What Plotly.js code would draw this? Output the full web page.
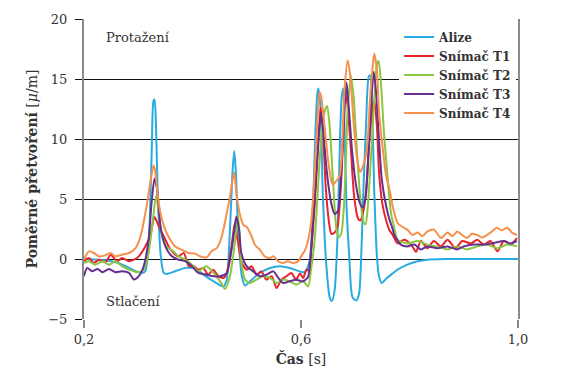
<!DOCTYPE html>
<html>
<head>
<meta charset="utf-8">
<script src="https://cdn.plot.ly/plotly-3.0.1.min.js"></script>
<style>html,body{margin:0;padding:0;background:#fff;}#chart{width:568px;height:367px;}</style>
</head>
<body>
<div id="chart"></div>
<script>
// Series names
const seriesNames = ['Alize', 'Snímač T1', 'Snímač T2', 'Snímač T3', 'Snímač T4'];
const xTickVals = [0.2, 0.6, 1.0];
const xTickText = ['0,2', '0,6', '1,0'];
const yTickVals = [-5, 0, 5, 10, 15, 20];

// [time s, strain µ/m]
const alize = [[0.200,0],[0.228,-0.06],[0.252,-0.19],[0.277,-0.6],[0.295,-1.02],[0.307,-1.16],[0.313,-1.02],[0.319,1.05],[0.322,4.35],[0.325,9.31],[0.328,13.17],[0.330,13.3],[0.333,10.7],[0.336,5.2],[0.341,0.5],[0.347,-1.16],[0.353,-1.24],[0.368,-1.02],[0.387,-0.74],[0.405,-0.8],[0.420,-1.3],[0.439,-1.86],[0.457,-2.28],[0.463,-1.72],[0.469,2.44],[0.474,7.44],[0.477,9.0],[0.480,7.2],[0.484,2.44],[0.491,-1.44],[0.497,-2.22],[0.506,-1.86],[0.524,-1.17],[0.543,-0.75],[0.561,-0.61],[0.579,-0.75],[0.598,-1.03],[0.607,-1.1],[0.616,-0.14],[0.622,4.3],[0.626,9.9],[0.630,13.75],[0.632,14.2],[0.636,12.6],[0.640,5.7],[0.647,-0.7],[0.653,-3.2],[0.657,-3.5],[0.662,-2.6],[0.667,1.5],[0.671,8.5],[0.675,13.5],[0.678,14.2],[0.680,11.3],[0.684,4.3],[0.689,0.2],[0.695,-3.2],[0.702,-3.45],[0.707,-2.9],[0.711,0.2],[0.715,5.7],[0.720,11.3],[0.725,15.2],[0.728,15.3],[0.731,12.7],[0.735,5.7],[0.740,0.2],[0.744,-1.5],[0.749,-2.0],[0.757,-1.64],[0.769,-1.2],[0.778,-0.89],[0.796,-0.47],[0.815,-0.19],[0.833,-0.06],[0.864,0],[0.93,0],[1.0,0]];

const snimacT1 = [[0.200,-0.19],[0.209,0.08],[0.218,-0.33],[0.228,-0.06],[0.240,-0.28],[0.249,0.36],[0.261,-0.19],[0.270,0.08],[0.283,-0.19],[0.292,-0.06],[0.301,0.22],[0.313,1.05],[0.322,1.9],[0.330,3.5],[0.338,2.7],[0.347,1.9],[0.356,1.05],[0.365,0.5],[0.374,0.22],[0.384,0.5],[0.393,-0.6],[0.402,-0.6],[0.411,-0.89],[0.420,-0.75],[0.429,-1.31],[0.438,-0.89],[0.448,-1.44],[0.457,-1.58],[0.463,-1.17],[0.472,1.06],[0.478,3.0],[0.483,1.61],[0.491,-0.33],[0.500,-0.89],[0.509,-0.61],[0.518,-1.31],[0.527,-1.03],[0.536,-1.72],[0.546,-1.44],[0.555,-2.42],[0.564,-1.72],[0.573,-1.44],[0.582,-1.17],[0.591,-1.72],[0.598,-1.2],[0.604,-1.6],[0.610,-0.9],[0.616,-1.0],[0.619,0.69],[0.625,4.3],[0.631,9.0],[0.636,12.6],[0.640,11.0],[0.646,5.7],[0.653,2.64],[0.656,2.1],[0.662,2.2],[0.667,2.6],[0.673,5.7],[0.679,11.25],[0.682,14.0],[0.686,12.7],[0.692,9.1],[0.698,5.2],[0.705,3.4],[0.709,3.2],[0.714,3.8],[0.720,5.7],[0.726,9.9],[0.732,12.7],[0.735,13.2],[0.740,11.0],[0.744,7.1],[0.750,4.6],[0.757,3.2],[0.763,2.4],[0.769,2.0],[0.778,1.3],[0.790,1.6],[0.803,1.2],[0.812,0.6],[0.821,1.5],[0.833,0.9],[0.845,1.5],[0.858,1.05],[0.870,1.6],[0.885,0.9],[0.897,1.5],[0.913,1.3],[0.925,1.6],[0.937,1.2],[0.949,1.5],[0.962,0.65],[0.974,1.5],[0.986,1.2],[0.998,1.75]];

const snimacT2 = [[0.200,-0.33],[0.209,-0.19],[0.221,-0.47],[0.234,-0.19],[0.246,-0.47],[0.258,-0.19],[0.270,-0.6],[0.283,-0.88],[0.298,-1.1],[0.310,-0.88],[0.319,0.5],[0.327,3.25],[0.333,5.3],[0.338,3.8],[0.344,1.85],[0.353,1.0],[0.365,0.63],[0.374,0.22],[0.387,-0.06],[0.399,-0.47],[0.411,-1.02],[0.420,-0.74],[0.426,-0.61],[0.439,-1.17],[0.451,-1.86],[0.460,-2.5],[0.469,-1.44],[0.478,1.33],[0.484,3.6],[0.490,-0.33],[0.497,-1.72],[0.506,-2.0],[0.518,-1.72],[0.530,-1.44],[0.543,-1.58],[0.555,-2.0],[0.567,-1.72],[0.579,-1.86],[0.591,-2.14],[0.604,-1.86],[0.613,-2.3],[0.619,-0.7],[0.625,1.5],[0.631,5.7],[0.637,9.9],[0.643,12.2],[0.648,12.75],[0.653,11.0],[0.659,6.5],[0.665,2.6],[0.669,1.8],[0.674,2.1],[0.679,4.3],[0.683,8.5],[0.686,12.6],[0.690,14.5],[0.692,15.3],[0.697,13.5],[0.703,9.1],[0.709,5.2],[0.715,3.1],[0.719,2.9],[0.723,4.3],[0.729,8.5],[0.735,13.2],[0.740,16.2],[0.743,16.5],[0.747,14.9],[0.753,10.5],[0.760,6.6],[0.766,3.8],[0.772,2.6],[0.778,1.6],[0.796,1.3],[0.815,1.5],[0.833,1.2],[0.851,1.05],[0.870,0.8],[0.888,1.05],[0.906,0.8],[0.925,1.05],[0.943,1.2],[0.962,0.9],[0.980,1.2],[0.998,1.05]];

const snimacT3 = [[0.200,-1.43],[0.206,-0.74],[0.215,-1.02],[0.225,-0.83],[0.234,-1.1],[0.246,-0.83],[0.258,-1.1],[0.270,-1.02],[0.283,-1.16],[0.292,-1.71],[0.301,-1.43],[0.310,-0.6],[0.319,1.6],[0.325,4.9],[0.330,6.7],[0.335,5.75],[0.341,2.7],[0.350,1.05],[0.362,0.22],[0.374,-0.06],[0.387,-0.19],[0.399,-0.6],[0.411,-1.16],[0.426,-1.31],[0.439,-1.44],[0.451,-1.44],[0.463,-1.17],[0.472,0.78],[0.478,2.72],[0.481,3.55],[0.486,2.44],[0.490,0.5],[0.500,-0.61],[0.512,-1.03],[0.524,-1.44],[0.536,-1.31],[0.549,-1.03],[0.558,-1.58],[0.567,-2.0],[0.579,-1.86],[0.591,-1.72],[0.604,-1.86],[0.613,-1.5],[0.616,-0.5],[0.622,2.9],[0.628,7.1],[0.634,11.0],[0.637,12.2],[0.642,10.1],[0.648,7.1],[0.656,4.6],[0.662,3.75],[0.668,4.0],[0.674,7.1],[0.680,12.6],[0.684,14.7],[0.688,12.7],[0.694,9.1],[0.702,6.0],[0.709,4.6],[0.714,4.3],[0.719,5.1],[0.725,9.3],[0.731,14.1],[0.734,15.6],[0.738,14.1],[0.743,10.5],[0.749,6.6],[0.757,4.4],[0.763,3.3],[0.769,2.5],[0.772,2.0],[0.784,1.2],[0.796,1.05],[0.809,1.2],[0.821,0.8],[0.833,1.05],[0.851,0.9],[0.870,1.05],[0.888,0.8],[0.900,1.05],[0.919,1.2],[0.937,1.2],[0.955,1.33],[0.974,1.5],[0.986,1.3],[0.998,1.5]];

const snimacT4 = [[0.200,-0.06],[0.209,0.63],[0.218,0.5],[0.228,0.22],[0.237,0.28],[0.249,0.5],[0.258,0.22],[0.270,0.36],[0.283,0.5],[0.295,0.91],[0.304,1.85],[0.313,3.8],[0.321,6.0],[0.328,7.8],[0.331,7.4],[0.335,5.7],[0.341,3.8],[0.350,2.4],[0.359,1.6],[0.368,1.05],[0.380,0.77],[0.393,0.5],[0.405,0.45],[0.414,0.22],[0.426,0.14],[0.435,0.64],[0.445,0.92],[0.454,1.89],[0.463,3.78],[0.469,5.2],[0.474,6.6],[0.477,7.2],[0.481,5.44],[0.487,3.78],[0.494,2.83],[0.500,2.67],[0.509,1.89],[0.515,1.19],[0.524,0.78],[0.533,0.22],[0.543,0.08],[0.549,0.22],[0.558,-0.19],[0.567,-0.33],[0.576,-0.19],[0.585,-0.33],[0.595,-0.19],[0.601,0.28],[0.607,0.69],[0.613,1.53],[0.619,3.2],[0.625,7.1],[0.630,11.25],[0.634,13.9],[0.637,13.6],[0.643,11.25],[0.650,8.2],[0.656,6.5],[0.659,6.2],[0.665,6.5],[0.671,6.9],[0.675,8.5],[0.680,14.0],[0.686,16.55],[0.691,15.2],[0.697,11.3],[0.703,8.5],[0.709,7.25],[0.714,7.7],[0.719,8.5],[0.723,9.9],[0.727,13.2],[0.732,16.0],[0.735,17.1],[0.740,15.7],[0.744,12.1],[0.751,9.1],[0.757,6.9],[0.763,5.8],[0.769,4.4],[0.778,3.0],[0.790,2.6],[0.796,2.45],[0.805,2.0],[0.815,2.2],[0.824,1.9],[0.833,2.3],[0.845,2.45],[0.858,1.75],[0.870,2.2],[0.879,1.9],[0.888,2.3],[0.897,2.0],[0.906,1.75],[0.915,2.1],[0.925,2.0],[0.934,1.8],[0.943,2.0],[0.952,2.3],[0.961,2.6],[0.970,2.4],[0.980,2.6],[0.989,2.2],[0.998,2.0]];

const seriesData = [alize, snimacT1, snimacT2, snimacT3, snimacT4];
const seriesColors = ['#29abe2', '#e8232a', '#8cc641', '#67308f', '#f6904b'];

const traces = seriesData.map(function (pts, i) {
  return {
    type: 'scatter', mode: 'lines', name: seriesNames[i],
    x: pts.map(function (p) { return p[0]; }),
    y: pts.map(function (p) { return p[1]; }),
    line: {color: seriesColors[i], width: 2, shape: 'spline', smoothing: 0.7},
    hoverinfo: 'skip'
  };
});

const serif = 'DejaVu Serif';
const layout = {
  width: 568, height: 367,
  margin: {l: 84, r: 50, t: 19, b: 48, pad: 0},
  paper_bgcolor: '#ffffff', plot_bgcolor: '#ffffff',
  separators: ', ',
  font: {family: serif, size: 13, color: '#333333'},
  showlegend: true,
  legend: {
    x: 0.726, y: 0.988, xanchor: 'left', yanchor: 'top',
    bgcolor: '#ffffff', borderwidth: 0, tracegroupgap: 0,
    font: {family: serif, size: 12, color: '#333333', weight: 'bold'}
  },
  xaxis: {
    range: [0.2, 1.0], tickvals: xTickVals, ticktext: xTickText,
    showgrid: false, zeroline: false, showline: false,
    ticks: 'outside', ticklen: 8, tickwidth: 1.5, tickcolor: '#888888',
    tickfont: {family: serif, size: 13, color: '#333333'},
    title: {text: '<b>Čas</b> [s]', font: {family: serif, size: 14, color: '#333333'}, standoff: 10}
  },
  yaxis: {
    range: [-5, 20], tickvals: yTickVals,
    showgrid: true, gridcolor: '#111111', gridwidth: 1, zeroline: false,
    showline: true, linecolor: '#8a8a8a', linewidth: 2, mirror: true,
    ticks: 'outside', ticklen: 7, tickwidth: 1, tickcolor: '#111111',
    ticklabelstandoff: 5,
    tickfont: {family: serif, size: 13, color: '#333333'},
    title: {text: '<b>Poměrné přetvoření</b> [<i>μ</i>/m]', font: {family: serif, size: 14, color: '#333333'}, standoff: 7}
  },
  annotations: [
    {xref: 'paper', yref: 'paper', x: 0.046, y: 0.937, xanchor: 'left', yanchor: 'middle', showarrow: false,
     text: 'Protažení', font: {family: serif, size: 13, color: '#333333'}},
    {xref: 'paper', yref: 'paper', x: 0.046, y: 0.057, xanchor: 'left', yanchor: 'middle', showarrow: false,
     text: 'Stlačení', font: {family: serif, size: 13, color: '#333333'}}
  ]
};

Plotly.newPlot('chart', traces, layout, {staticPlot: true, displayModeBar: false});
</script>
</body>
</html>
